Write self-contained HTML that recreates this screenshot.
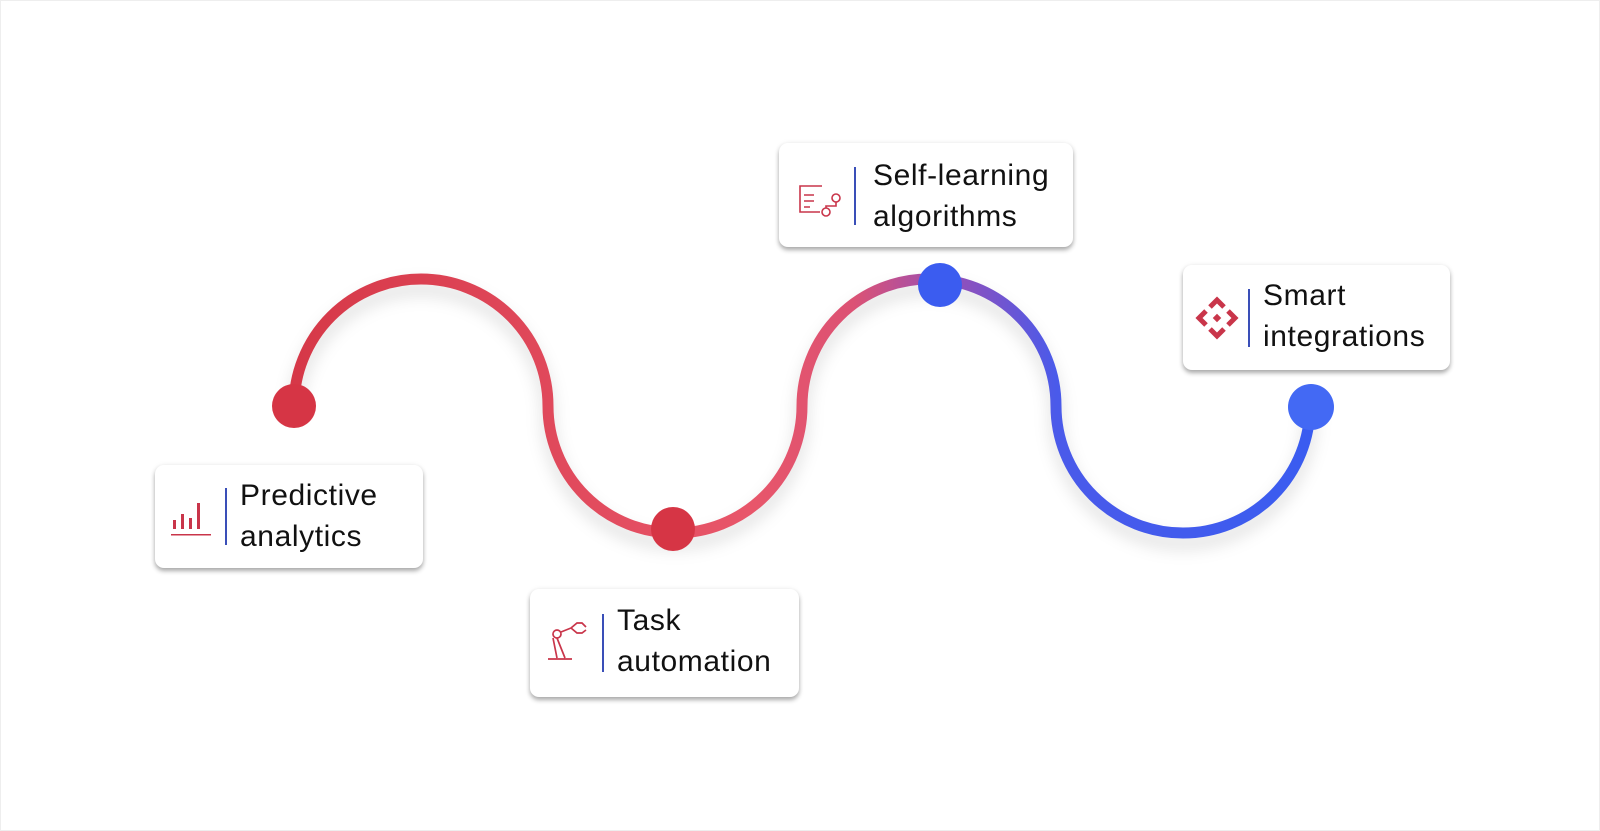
<!DOCTYPE html>
<html><head><meta charset="utf-8"><style>
body{margin:0;width:1600px;height:831px;background:#fff;position:relative;overflow:hidden;font-family:"Liberation Sans",sans-serif}
.card{position:absolute;background:#fff;border-radius:9px;box-shadow:0 3px 5px rgba(0,0,0,0.32),0 0 6px rgba(0,0,0,0.06)}
.t{position:absolute;font-size:30px;line-height:41px;color:#111;white-space:nowrap;letter-spacing:0.6px}
.d{position:absolute;width:2px;background:#3a4fb8}
svg{position:absolute;left:0;top:0}
</style></head><body>
<div style="position:absolute;left:0;top:0;width:1598px;height:829px;border:1px solid #eee"></div>
<svg width="1600" height="831">
<defs>
<linearGradient id="g" gradientUnits="userSpaceOnUse" x1="294" y1="0" x2="1310" y2="0">
<stop offset="0" stop-color="#d63848"/><stop offset="0.45" stop-color="#e8566a"/>
<stop offset="0.55" stop-color="#dc5274"/><stop offset="0.64" stop-color="#9a4fb4"/>
<stop offset="0.75" stop-color="#4a5aea"/><stop offset="1" stop-color="#3a5cf0"/>
</linearGradient>
<filter id="s" x="-20%" y="-20%" width="140%" height="160%"><feGaussianBlur stdDeviation="8"/></filter>
</defs>
<path d="M294,416 A127,127 0 0 1 548,416 A127 127 0 0 0 802 416 A127 127 0 0 1 1056 416 A127 127 0 0 0 1310 416" fill="none" stroke="#000" stroke-opacity="0.12" stroke-width="12" filter="url(#s)"/>
<path d="M294,406 A127,127 0 0 1 548,406 A127 127 0 0 0 802 406 A127 127 0 0 1 1056 406 A127 127 0 0 0 1310 406" fill="none" stroke="url(#g)" stroke-width="11"/>
<circle cx="294" cy="406" r="22" fill="#d63545"/>
<circle cx="673" cy="529" r="22" fill="#d63545"/>
<circle cx="940" cy="285" r="22" fill="#3b5cf0"/>
<circle cx="1311" cy="407" r="23" fill="#4369f4"/>
</svg>

<div class="card" style="left:155px;top:465px;width:268px;height:103px"></div>
<div class="d" style="left:225px;top:488px;height:57px"></div>
<div class="t" style="left:240px;top:475px">Predictive<br>analytics</div>

<div class="card" style="left:530px;top:589px;width:269px;height:108px"></div>
<div class="d" style="left:602px;top:614px;height:58px"></div>
<div class="t" style="left:617px;top:600px">Task<br>automation</div>

<div class="card" style="left:779px;top:143px;width:294px;height:104px"></div>
<div class="d" style="left:854px;top:167px;height:58px"></div>
<div class="t" style="left:873px;top:155px">Self-learning<br>algorithms</div>

<div class="card" style="left:1183px;top:265px;width:267px;height:105px"></div>
<div class="d" style="left:1248px;top:289px;height:58px"></div>
<div class="t" style="left:1263px;top:275px">Smart<br>integrations</div>

<svg width="1600" height="831" style="pointer-events:none">
<g fill="#c9354a"><rect x="173" y="520" width="3" height="9"/><rect x="181" y="514" width="3" height="15"/><rect x="189" y="518" width="3" height="11"/><rect x="197" y="503" width="3" height="26"/><rect x="171" y="534" width="40" height="1.5"/></g>
<g fill="none" stroke="#c9354a" stroke-width="1.6"><path d="M822,186 h-22 v26 h20"/><path d="M804,195 h10 M804,201 h10 M804,207 h6"/><circle cx="836" cy="198" r="4"/><circle cx="826" cy="212" r="4"/><path d="M836,202 v4 h-10 v2"/></g>
<g fill="none" stroke="#c9354a" stroke-width="1.7"><circle cx="557" cy="634" r="4"/><path d="M557,638 l8,20 M553,638 l4,20 M548,659 h24 M561,632 l10,-4"/><path d="M571,628 l6,-5 h5 l4,4 M571,628 l6,5 h5 l4,-3"/></g>
<g fill="none" stroke="#c9354a" stroke-width="5" stroke-linejoin="miter">
<path d="M1210,307 l7,-7 7,7"/><path d="M1210,329 l7,7 7,-7"/><path d="M1206,311 l-7,7 7,7"/><path d="M1228,311 l7,7 -7,7"/></g>
<rect x="1214" y="315" width="6" height="6" fill="#c9354a" transform="rotate(45 1217 318)"/>
</svg>
</body></html>
